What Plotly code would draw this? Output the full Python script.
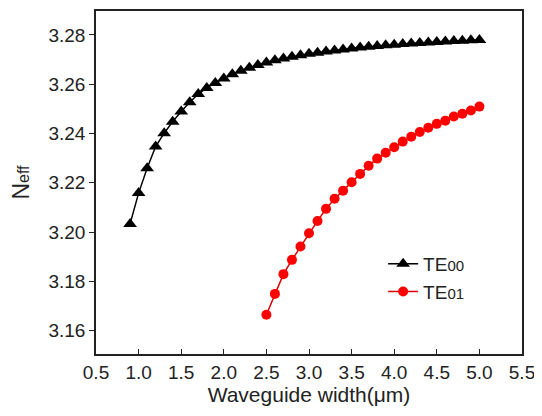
import plotly.graph_objects as go

width_te00 = [0.9, 1.0, 1.1, 1.2, 1.3, 1.4, 1.5, 1.6, 1.7, 1.8, 1.9, 2.0, 2.1, 2.2, 2.3, 2.4,
              2.5, 2.6, 2.7, 2.8, 2.9, 3.0, 3.1, 3.2, 3.3, 3.4, 3.5, 3.6, 3.7, 3.8, 3.9, 4.0,
              4.1, 4.2, 4.3, 4.4, 4.5, 4.6, 4.7, 4.8, 4.9, 5.0]
neff_te00 = [3.2033, 3.2158, 3.2259, 3.2347, 3.2401, 3.2448, 3.2489, 3.2527, 3.2560, 3.2585,
             3.2605, 3.2623, 3.2640, 3.2655, 3.2667, 3.2678, 3.2688, 3.2697, 3.2704, 3.2711,
             3.2717, 3.2723, 3.2728, 3.2733, 3.2737, 3.2741, 3.2745, 3.2749, 3.2752, 3.2755,
             3.2758, 3.2760, 3.2763, 3.2765, 3.2767, 3.2769, 3.2771, 3.2773, 3.2775, 3.2776,
             3.2778, 3.2779]

width_te01 = [2.5, 2.6, 2.7, 2.8, 2.9, 3.0, 3.1, 3.2, 3.3, 3.4, 3.5, 3.6, 3.7, 3.8, 3.9,
              4.0, 4.1, 4.2, 4.3, 4.4, 4.5, 4.6, 4.7, 4.8, 4.9, 5.0]
neff_te01 = [3.1664, 3.1749, 3.1829, 3.1887, 3.1941, 3.1995, 3.2045, 3.2094, 3.2135, 3.2168,
             3.2202, 3.2236, 3.2269, 3.2298, 3.2322, 3.2344, 3.2367, 3.2387, 3.2406, 3.2423,
             3.2439, 3.2452, 3.2469, 3.2480, 3.2493, 3.2509]

x_ticks = [0.5, 1.0, 1.5, 2.0, 2.5, 3.0, 3.5, 4.0, 4.5, 5.0, 5.5]
y_ticks = [3.16, 3.18, 3.20, 3.22, 3.24, 3.26, 3.28]

FONT = "Liberation Sans, Arial, sans-serif"
SMALL = "<span style='font-size:15px'>{}</span>"

fig = go.Figure()
fig.add_trace(go.Scatter(
    x=width_te00, y=neff_te00, mode="lines+markers", name="TE" + SMALL.format("00"),
    line=dict(color="black", width=1.5),
    marker=dict(symbol="triangle-up", size=12, color="black"),
))
fig.add_trace(go.Scatter(
    x=width_te01, y=neff_te01, mode="lines+markers", name="TE" + SMALL.format("01"),
    line=dict(color="#d80000", width=1.5),
    marker=dict(symbol="circle", size=10, color="#ff0000"),
))

fig.update_layout(
    width=542, height=416,
    margin=dict(l=88, r=28, t=3, b=70),
    paper_bgcolor="white", plot_bgcolor="white",
    font=dict(family=FONT, size=18, color="#222"),
    showlegend=True,
    legend=dict(x=0.674, y=0.318, xanchor="left", yanchor="top",
                bgcolor="rgba(0,0,0,0)", font=dict(size=19, family=FONT),
                tracegroupgap=0),
    xaxis=dict(
        range=[0.5, 5.5], tickvals=x_ticks, ticktext=[f"{v:.1f}" for v in x_ticks],
        ticks="inside", ticklen=5, tickwidth=1.2, tickcolor="#222",
        showline=True, linecolor="#222", linewidth=1.5, mirror=True,
        showgrid=False, zeroline=False, automargin=False,
        tickfont=dict(size=19, family=FONT),
        title=dict(text="Waveguide width(\u03bcm)", font=dict(size=21, family=FONT), standoff=6),
    ),
    yaxis=dict(
        range=[3.1505, 3.2897], tickvals=y_ticks, ticktext=[f"{v:.2f}" for v in y_ticks],
        ticks="outside", ticklen=5, tickwidth=1.2, tickcolor="#222",
        showline=True, linecolor="#222", linewidth=1.5, mirror=True,
        showgrid=False, zeroline=False, automargin=False,
        tickfont=dict(size=19, family=FONT),
        title=dict(text="N" + "<span style='font-size:16px'>eff</span>",
                   font=dict(size=23, family=FONT), standoff=20),
    ),
)

fig.write_html("out.html")
